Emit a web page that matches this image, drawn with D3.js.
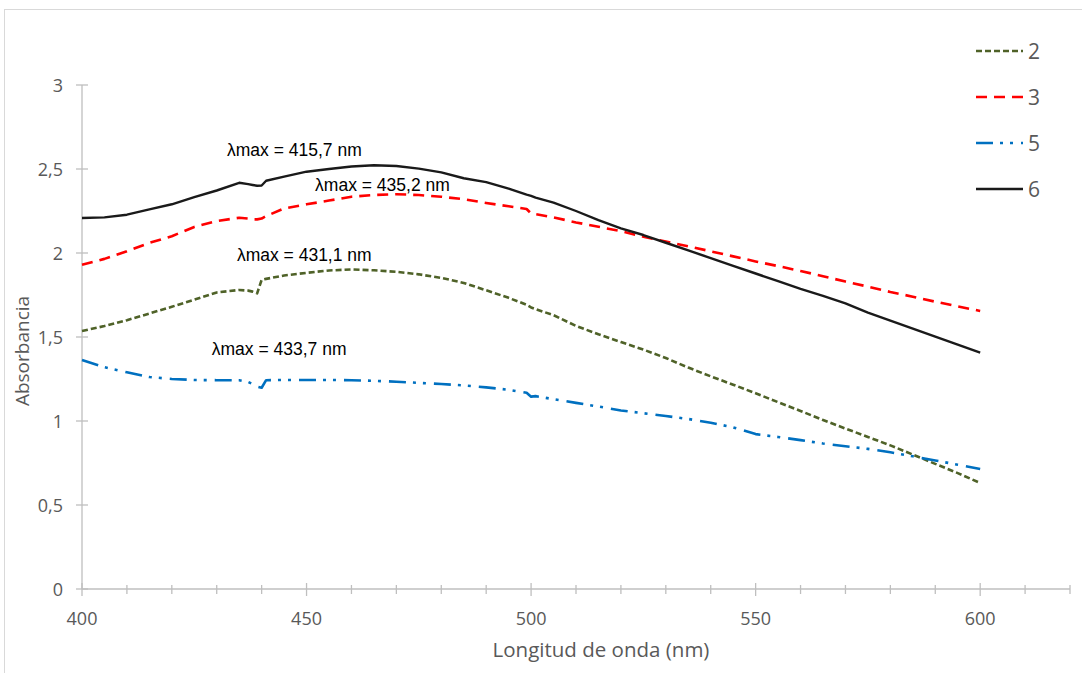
<!DOCTYPE html>
<html>
<head>
<meta charset="utf-8">
<script src="https://cdn.jsdelivr.net/npm/d3@7"></script>
<style>
  html, body { margin: 0; padding: 0; background: #fff; }
  svg { display: block; }
</style>
</head>
<body>
<svg id="chart" width="1082" height="673"></svg>
<script>
// Wavelength grid (nm) shared by all spectra
const wavelengths = [400,405,410,415,420,425,430,435,437,438,439,440,441,445,450,455,460,465,470,475,480,485,490,495,499,500,501,505,510,515,520,525,530,535,540,545,550,555,560,565,570,575,580,585,590,595,600];

// Absorbance of each sample
const serie2 = [1.536,1.565,1.600,1.640,1.680,1.722,1.765,1.780,1.776,1.770,1.760,1.840,1.846,1.866,1.882,1.896,1.902,1.897,1.888,1.873,1.852,1.822,1.778,1.733,1.692,1.676,1.666,1.630,1.566,1.516,1.470,1.425,1.375,1.318,1.266,1.216,1.165,1.112,1.060,1.006,0.955,0.905,0.855,0.800,0.745,0.690,0.631];
const serie3 = [1.930,1.965,2.010,2.060,2.100,2.155,2.190,2.210,2.205,2.200,2.200,2.205,2.220,2.265,2.290,2.312,2.335,2.345,2.350,2.345,2.335,2.320,2.298,2.278,2.262,2.235,2.232,2.212,2.182,2.156,2.130,2.097,2.068,2.040,2.010,1.980,1.950,1.922,1.893,1.862,1.830,1.800,1.768,1.740,1.710,1.682,1.655];
const serie5 = [1.363,1.320,1.290,1.262,1.250,1.244,1.243,1.243,1.232,1.220,1.205,1.198,1.243,1.244,1.244,1.244,1.243,1.239,1.234,1.227,1.220,1.212,1.200,1.186,1.168,1.145,1.148,1.130,1.108,1.086,1.063,1.046,1.030,1.012,0.990,0.962,0.922,0.905,0.886,0.866,0.850,0.834,0.814,0.790,0.765,0.740,0.714];
const serie6 = [2.208,2.212,2.228,2.260,2.290,2.332,2.372,2.418,2.410,2.405,2.400,2.402,2.430,2.455,2.484,2.500,2.515,2.522,2.518,2.502,2.480,2.445,2.422,2.383,2.348,2.340,2.330,2.300,2.250,2.196,2.146,2.107,2.061,2.015,1.970,1.924,1.878,1.832,1.786,1.745,1.700,1.645,1.598,1.550,1.502,1.455,1.407];

// Legend entries and peak annotations (anchor = [wavelength, absorbance] of the text start)
const seriesNames = ["2", "3", "5", "6"];
const peakLabels = ["λmax = 415,7 nm", "λmax = 435,2 nm", "λmax = 431,1 nm", "λmax = 433,7 nm"];
const peakAnchors = [[432.3, 2.577], [451.9, 2.372], [434.5, 1.955], [428.9, 1.390]];

// Axis ticks
const xMajorTicks = [400, 450, 500, 550, 600];
const xMinorTicks = d3.range(400, 621, 10);
const yTicks = [0, 0.5, 1, 1.5, 2, 2.5, 3];

const styles = [
  { color: "#4f6228", width: 2.6, dash: "6,3" },
  { color: "#ff0000", width: 2.6, dash: "11,7" },
  { color: "#0070c0", width: 2.6, dash: "17,7,3,7,3,8" },
  { color: "#1a1a1a", width: 2.4, dash: null }
];

const svg = d3.select("#chart");

// Outer chart border
svg.append("rect")
  .attr("x", 4.5).attr("y", 9.5)
  .attr("width", 1100).attr("height", 700)
  .attr("fill", "none").attr("stroke", "#d9d9d9").attr("stroke-width", 1);

const x = d3.scaleLinear().domain([400, 620]).range([82, 1070]);
const y = d3.scaleLinear().domain([0, 3]).range([589, 85]);

const axisColor = "#bfbfbf";
const textColor = "#595959";
const font = "'Open Sans', 'Segoe UI', sans-serif";

// Y axis: line with crossing ticks
const yAxisG = svg.append("g");
yAxisG.append("line")
  .attr("x1", x(400)).attr("x2", x(400))
  .attr("y1", y(3)).attr("y2", y(0))
  .attr("stroke", axisColor).attr("stroke-width", 1.3);
yAxisG.selectAll("line.tick").data(yTicks).join("line")
  .attr("class", "tick")
  .attr("x1", x(400) - 6).attr("x2", x(400) + 6)
  .attr("y1", d => y(d)).attr("y2", d => y(d))
  .attr("stroke", axisColor).attr("stroke-width", 1.3);
yAxisG.selectAll("text").data(yTicks).join("text")
  .attr("x", 63).attr("y", d => y(d) + 6.5)
  .attr("text-anchor", "end")
  .attr("font-family", font).attr("font-size", 18)
  .attr("fill", textColor)
  .text(d => String(d).replace(".", ","));

// X axis: line, minor and major crossing ticks
const xAxisG = svg.append("g");
xAxisG.append("line")
  .attr("x1", x(400)).attr("x2", x(620))
  .attr("y1", y(0)).attr("y2", y(0))
  .attr("stroke", axisColor).attr("stroke-width", 1.3);
xAxisG.selectAll("line.minor").data(xMinorTicks.filter(d => d % 50 !== 0)).join("line")
  .attr("class", "minor")
  .attr("x1", d => x(d)).attr("x2", d => x(d))
  .attr("y1", y(0) - 4).attr("y2", y(0) + 5)
  .attr("stroke", axisColor).attr("stroke-width", 1.3);
xAxisG.selectAll("line.major").data(xMajorTicks).join("line")
  .attr("class", "major")
  .attr("x1", d => x(d)).attr("x2", d => x(d))
  .attr("y1", y(0) - 6).attr("y2", y(0) + 7)
  .attr("stroke", axisColor).attr("stroke-width", 1.3);
xAxisG.selectAll("text").data(xMajorTicks).join("text")
  .attr("x", d => x(d)).attr("y", 625)
  .attr("text-anchor", "middle")
  .attr("font-family", font).attr("font-size", 18)
  .attr("fill", textColor)
  .text(d => d);

// Axis titles
svg.append("text")
  .attr("x", 601).attr("y", 657)
  .attr("text-anchor", "middle")
  .attr("font-family", font).attr("font-size", 20.5)
  .attr("fill", textColor)
  .text("Longitud de onda (nm)");
svg.append("text")
  .attr("transform", "translate(29,351) rotate(-90)")
  .attr("text-anchor", "middle")
  .attr("font-family", font).attr("font-size", 19)
  .attr("fill", textColor)
  .text("Absorbancia");

// Spectra
const allSeries = [serie2, serie3, serie5, serie6];
const line = d3.line()
  .x((d, i) => x(wavelengths[i]))
  .y(d => y(d));

const plotG = svg.append("g");
allSeries.forEach((vals, k) => {
  const p = plotG.append("path")
    .datum(vals)
    .attr("d", line)
    .attr("fill", "none")
    .attr("stroke", styles[k].color)
    .attr("stroke-width", styles[k].width)
    .attr("stroke-linejoin", "round");
  if (styles[k].dash) p.attr("stroke-dasharray", styles[k].dash);
});

// Peak annotations
svg.selectAll("text.peak").data(peakLabels).join("text")
  .attr("class", "peak")
  .attr("x", (d, i) => x(peakAnchors[i][0]))
  .attr("y", (d, i) => y(peakAnchors[i][1]))
  .attr("font-family", "'Liberation Sans', Arial, sans-serif")
  .attr("font-size", 17.5)
  .attr("fill", "#000")
  .text(d => d);

// Legend
const legend = svg.append("g");
seriesNames.forEach((name, k) => {
  const cy = 51 + k * 46;
  const l = legend.append("line")
    .attr("x1", 976).attr("x2", 1023)
    .attr("y1", cy).attr("y2", cy)
    .attr("stroke", styles[k].color)
    .attr("stroke-width", styles[k].width);
  if (styles[k].dash) l.attr("stroke-dasharray", styles[k].dash);
  legend.append("text")
    .attr("x", 1028).attr("y", cy + 7.5)
    .attr("font-family", font).attr("font-size", 21)
    .attr("fill", textColor)
    .text(name);
});
</script>
</body>
</html>
